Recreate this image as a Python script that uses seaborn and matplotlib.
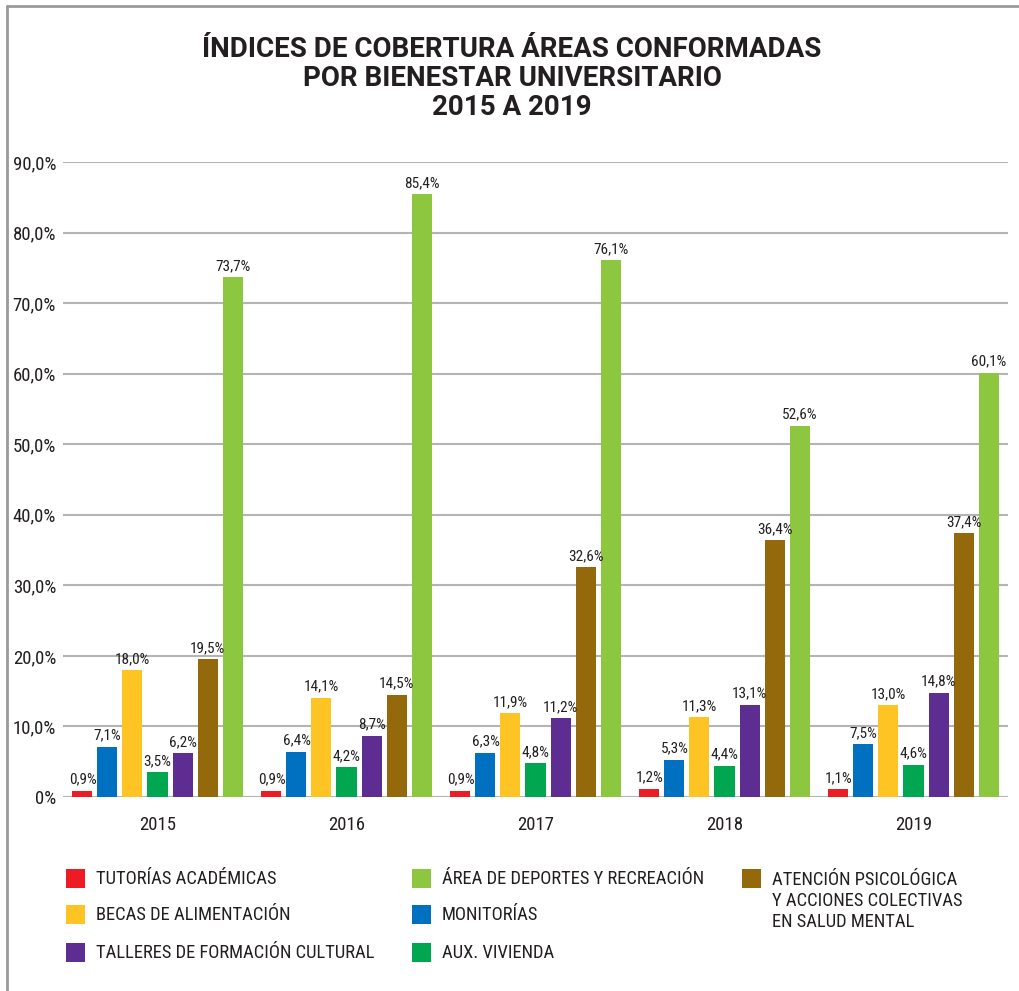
import matplotlib
matplotlib.use('Agg')
import matplotlib.pyplot as plt
import matplotlib.ticker as mticker
from matplotlib import font_manager
from matplotlib.lines import Line2D
from matplotlib.patches import Rectangle
import pandas as pd
import seaborn as sns

YEARS = ['2015', '2016', '2017', '2018', '2019']
SERIES = ['TUTORÍAS ACADÉMICAS', 'MONITORÍAS', 'BECAS DE ALIMENTACIÓN', 'AUX. VIVIENDA',
          'TALLERES DE FORMACIÓN CULTURAL',
          'ATENCIÓN PSICOLÓGICA\nY ACCIONES COLECTIVAS\nEN SALUD MENTAL',
          'ÁREA DE DEPORTES Y RECREACIÓN']
COLORS = ['#ED1C24', '#0070C0', '#FEC423', '#00A650', '#5E2D91', '#94690B', '#8DC63F']
TUTORIAS = [0.9, 0.9, 0.9, 1.2, 1.1]
MONITORIAS = [7.1, 6.4, 6.3, 5.3, 7.5]
BECAS = [18.0, 14.1, 11.9, 11.3, 13.0]
VIVIENDA = [3.5, 4.2, 4.8, 4.4, 4.6]
TALLERES = [6.2, 8.7, 11.2, 13.1, 14.8]
ATENCION = [19.5, 14.5, 32.6, 36.4, 37.4]
DEPORTES = [73.7, 85.4, 76.1, 52.6, 60.1]
VALUES = [TUTORIAS, MONITORIAS, BECAS, VIVIENDA, TALLERES, ATENCION, DEPORTES]
# legend order as laid out in the picture (column by column)
LEGEND_ORDER = [[0, 2, 4], [6, 1, 3], [5]]

TITLE = 'ÍNDICES DE COBERTURA ÁREAS CONFORMADAS\nPOR BIENESTAR UNIVERSITARIO\n2015 A 2019'
TEXT = '#231F20'
GRID = '#B4B4B4'


def pick_font(candidates):
    names = {f.name for f in font_manager.fontManager.ttflist}
    for c in candidates:
        if c in names:
            return c
    return 'DejaVu Sans'


rows = []
for name, vals in zip(SERIES, VALUES):
    for y, v in zip(YEARS, vals):
        rows.append({'year': y, 'serie': name, 'value': v})
df = pd.DataFrame(rows)

sns.set_style('white')
NARROW = pick_font(['Roboto Condensed', 'Liberation Sans Narrow', 'Roboto'])
TITLE_FONT = pick_font(['Roboto', 'Inter', 'DejaVu Sans'])
plt.rcParams['font.family'] = [NARROW, 'DejaVu Sans']

W, H = 1019, 991
fig = plt.figure(figsize=(W / 100, H / 100), dpi=100)
ax = fig.add_axes([63 / W, 1 - 797 / H, 945 / W, 635 / H])

sns.barplot(data=df, x='year', y='value', hue='serie', order=YEARS, hue_order=SERIES,
            palette=COLORS, saturation=1, width=0.926, gap=0.2, legend=False,
            linewidth=0, ax=ax)

for cont, vals in zip(ax.containers, VALUES):
    ax.bar_label(cont, labels=[f'{v:.1f}%'.replace('.', ',') for v in vals],
                 padding=3, fontsize=11, color=TEXT)

ax.set_ylim(0, 90)
ax.set_xlim(-0.5, 4.5)
ax.yaxis.set_major_locator(mticker.MultipleLocator(10))
ax.yaxis.set_major_formatter(mticker.FuncFormatter(
    lambda x, _: '0%' if x == 0 else f'{x:.1f}%'.replace('.', ',')))
ax.grid(True, axis='y', color=GRID, linewidth=1.5)
ax.set_axisbelow(True)
for s in ax.spines.values():
    s.set_visible(False)
ax.tick_params(axis='both', length=0, labelsize=13.5, labelcolor=TEXT)
ax.tick_params(axis='y', pad=5)
ax.tick_params(axis='x', pad=14)
ax.set_xlabel('')
ax.set_ylabel('')

fig.text(512 / W, 1 - 36 / H, TITLE, ha='center', va='top', fontsize=20,
         fontweight='bold', family=TITLE_FONT, color=TEXT, linespacing=1.1)

# legend drawn by hand in three columns
col_x = [66, 412, 742]
row_y = [869, 905, 943]
for cx, idxs in zip(col_x, LEGEND_ORDER):
    for ry, i in zip(row_y, idxs):
        fig.patches.append(Rectangle((cx / W, 1 - (ry + 19) / H), 19 / W, 19 / H,
                                     transform=fig.transFigure, color=COLORS[i], lw=0))
        if '\n' in SERIES[i]:
            fig.text((cx + 30) / W, 1 - (ry + 2) / H, SERIES[i], ha='left', va='top',
                     fontsize=13.3, color=TEXT, linespacing=1.2)
        else:
            fig.text((cx + 30) / W, 1 - (ry + 10) / H, SERIES[i], ha='left', va='center',
                     fontsize=13.3, color=TEXT)

# outer frame lines (top and left)
fig.add_artist(Line2D([7 / W, 1], [1 - 6 / H, 1 - 6 / H], transform=fig.transFigure,
                      color='#9A9A9A', lw=2))
fig.add_artist(Line2D([7 / W, 7 / W], [0, 1 - 6 / H], transform=fig.transFigure,
                      color='#9A9A9A', lw=2))

fig.savefig('out.png', dpi=100)
